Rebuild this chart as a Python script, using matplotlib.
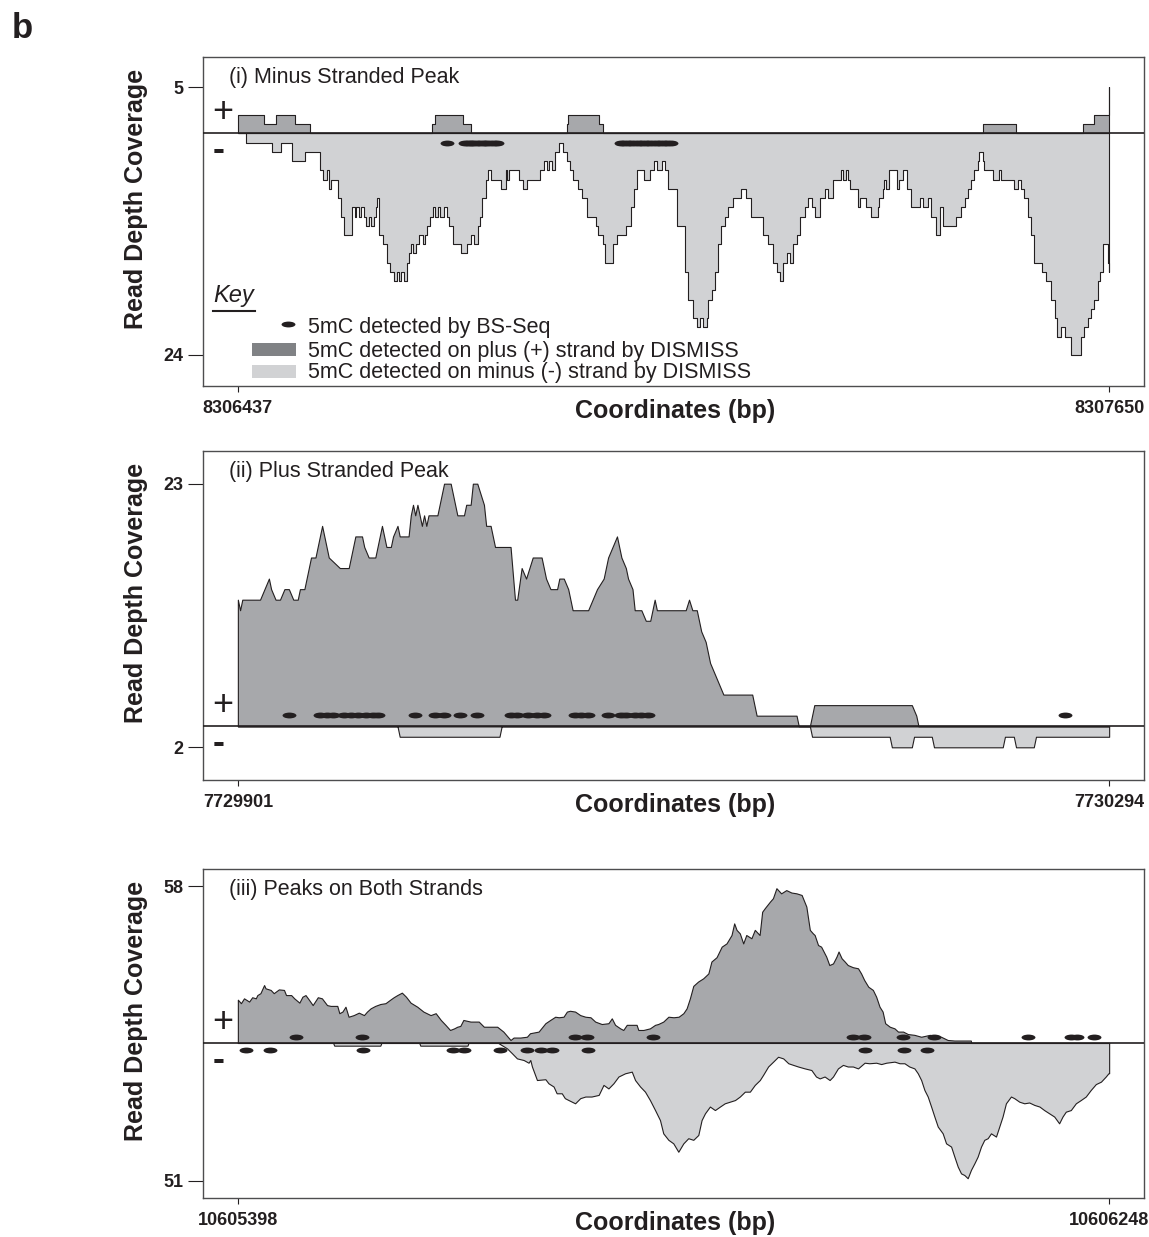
import matplotlib
matplotlib.use("Agg")
import matplotlib.pyplot as plt
from matplotlib.path import Path
from matplotlib.transforms import Affine2D
from matplotlib.patches import Rectangle
from matplotlib.lines import Line2D
import numpy as np

plt.rcParams['font.family'] = ['Liberation Sans', 'DejaVu Sans']

# ---------------- data ----------------
# Panel (i): Minus stranded peak
P1_START, P1_END = 8306437, 8307650
P1_YMAX_PLUS, P1_YMAX_MINUS = 5, 24
P1_PLUS = [(0, 2), (37, 1), (53, 2), (79, 1), (100, 0), (270, 1), (275, 2), (314, 1), (325, 0),
           (458, 1), (460, 2), (503, 1), (508, 0), (1038, 1), (1084, 0), (1176, 1), (1192, 2), (1213, 5)]
P1_MINUS = [(0, 0), (12, 1), (48, 2), (60, 1), (76, 3), (94, 2), (114, 4), (119, 5), (124, 4), (127, 6),
            (130, 5), (139, 7), (144, 9), (148, 11), (159, 8), (163, 9), (165, 8), (169, 9), (172, 8),
            (175, 9), (179, 10), (183, 9), (186, 10), (189, 9), (192, 8), (194, 7), (196, 11), (202, 12),
            (207, 14), (212, 15), (218, 16), (222, 15), (225, 16), (227, 15), (231, 16), (235, 14),
            (238, 13), (241, 12), (244, 13), (248, 12), (252, 11), (258, 12), (261, 11), (264, 10),
            (268, 9), (271, 8), (275, 9), (278, 8), (282, 9), (287, 8), (291, 9), (294, 10), (300, 12),
            (310, 13), (319, 12), (325, 11), (329, 12), (334, 10), (337, 9), (340, 7), (345, 5), (348, 4),
            (352, 5), (366, 6), (373, 4), (375, 5), (378, 4), (392, 5), (397, 6), (402, 5), (421, 4),
            (426, 3), (430, 4), (433, 3), (437, 4), (442, 2), (447, 1), (453, 2), (458, 3), (463, 4),
            (467, 5), (474, 6), (479, 7), (486, 9), (498, 10), (502, 11), (509, 12), (511, 14), (522, 12),
            (528, 11), (541, 10), (548, 8), (551, 6), (555, 4), (565, 5), (574, 4), (579, 3), (583, 4),
            (590, 3), (595, 4), (599, 6), (611, 10), (623, 15), (627, 18), (634, 20), (639, 21), (643, 20),
            (648, 21), (653, 20), (655, 18), (660, 17), (664, 15), (669, 12), (673, 10), (678, 9),
            (683, 8), (690, 7), (701, 6), (708, 7), (715, 9), (731, 11), (738, 12), (745, 14), (750, 15),
            (755, 16), (759, 14), (764, 13), (768, 14), (773, 12), (778, 11), (782, 9), (789, 8), (794, 7),
            (799, 8), (803, 9), (810, 7), (817, 6), (821, 7), (829, 5), (840, 4), (842, 5), (846, 4),
            (849, 5), (852, 6), (863, 8), (866, 7), (875, 8), (882, 9), (891, 8), (893, 7), (898, 6),
            (900, 5), (903, 6), (907, 4), (917, 6), (921, 5), (926, 4), (931, 6), (937, 8), (949, 7),
            (954, 8), (961, 7), (965, 9), (972, 11), (977, 8), (981, 10), (1000, 9), (1007, 8), (1012, 7),
            (1016, 6), (1021, 5), (1025, 4), (1030, 3), (1032, 2), (1037, 3), (1039, 4), (1051, 5),
            (1060, 4), (1062, 5), (1081, 6), (1086, 5), (1090, 6), (1095, 7), (1100, 9), (1104, 11),
            (1109, 14), (1120, 15), (1125, 16), (1132, 18), (1137, 20), (1141, 22), (1146, 21), (1151, 22),
            (1160, 24), (1174, 22), (1178, 21), (1183, 20), (1188, 19), (1192, 18), (1197, 16), (1200, 15),
            (1204, 12), (1211, 14), (1213, 15)]
P1_BS_MINUS = [291, 316, 320, 324, 328, 333, 337, 342, 346, 351, 356, 361,
               533, 538, 543, 548, 553, 558, 563, 568, 573, 578, 583, 588, 593, 598, 603]
P1_BS_PLUS = []

# Panel (ii): Plus stranded peak
P2_START, P2_END = 7729901, 7730294
P2_YMAX_PLUS, P2_YMAX_MINUS = 23, 2
P2_PLUS = [(0, 12), (1, 11), (2, 12), (10, 12), (12, 13), (14, 14), (15, 13), (17, 12), (19, 12), (21, 13),
           (23, 13), (25, 12), (27, 12), (28, 13), (30, 13), (33, 16), (35, 16), (38, 19), (41, 16),
           (46, 15), (50, 15), (52, 17), (53, 18), (56, 18), (57, 17), (59, 16), (62, 16), (65, 19),
           (67, 17), (69, 17), (70, 18), (72, 19), (73, 18), (77, 18), (78, 20), (79, 21), (80, 20),
           (81, 21), (82, 20), (83, 19), (84, 20), (85, 19), (86, 20), (90, 20), (93, 23), (96, 23),
           (99, 20), (102, 20), (103, 21), (105, 21), (106, 23), (108, 23), (111, 21), (112, 19),
           (114, 19), (116, 17), (123, 17), (125, 12), (126, 12), (128, 15), (130, 14), (133, 16),
           (137, 16), (139, 14), (141, 13), (144, 13), (145, 14), (147, 14), (149, 13), (151, 11),
           (158, 11), (160, 12), (162, 13), (165, 14), (167, 16), (169, 17), (171, 18), (173, 16),
           (175, 15), (176, 14), (178, 13), (179, 11), (182, 11), (184, 10), (186, 10), (188, 12),
           (189, 11), (202, 11), (203.5, 12), (205, 11), (207, 11), (209, 9), (211, 8), (213, 6),
           (215, 5), (217, 4), (219, 3), (232, 3), (234, 1), (252, 1), (253, 0), (258, 0), (260, 2),
           (304, 2), (306, 1), (307, 0), (393, 0)]
P2_MINUS = [(0, 0), (72, 0), (73, 1), (118, 1), (119, 0), (258, 0), (259, 1), (294, 1), (295, 2),
            (304, 2), (305, 1), (313, 1), (314, 2), (345, 2), (346, 1), (350, 1), (351, 2), (359, 2),
            (360, 1), (393, 1)]
P2_BS_PLUS = [23, 37, 40, 43, 48, 51, 54, 58, 61, 63, 80, 89, 93, 100, 108, 123, 126, 131, 135, 138,
              152, 155, 158, 167, 173, 175, 179, 182, 185, 373]
P2_BS_MINUS = []

# Panel (iii): Peaks on both strands
P3_START, P3_END = 10605398, 10606248
P3_YMAX_PLUS, P3_YMAX_MINUS = 58, 51
P3_PLUS = [(0, 16), (3, 14.7), (6, 16.5), (11, 15.3), (14, 16.9), (17.5, 16.5), (19, 17.7), (22, 18.4),
           (25.6, 21.4), (27, 20.2), (32, 19.6), (35, 18.4), (40, 19.8), (45, 19.6), (47, 17.7),
           (52, 17.7), (55, 16.5), (60, 14.9), (63, 17.1), (66, 17.7), (69.5, 15.9), (73, 14.0),
           (78, 16.9), (82, 16.5), (87, 14.0), (90.5, 13.7), (97, 13.7), (99, 11.0), (102, 11.6),
           (105, 13.4), (108, 9.7), (113, 10.3), (118, 11.2), (123, 10.3), (126, 11.6), (129.5, 12.8),
           (134, 13.7), (139, 14.4), (144, 14.7), (149, 16.1), (152, 16.9), (155.5, 17.7), (160, 18.6),
           (164, 17.1), (168.5, 14.9), (175, 13.4), (181, 11.6), (188, 10.3), (193, 11.0), (198, 8.5),
           (202.5, 6.7), (207, 4.8), (211, 5.4), (214, 6.0), (217, 6.3), (220, 8.5), (227, 7.9),
           (235, 7.9), (240, 6.0), (246, 6.0), (253, 6.0), (259, 4.2), (266, 1.1), (269, 2.0),
           (275.5, 2.0), (282, 2.3), (285, 3.6), (293.4, 4.2), (300, 7.3), (304.7, 8.5), (309.6, 9.7),
           (313, 9.5), (317.7, 9.7), (321, 11.6), (324, 11.9), (329, 11.6), (334, 10.3), (339, 9.7),
           (344, 9.5), (348.6, 7.9), (355, 7.0), (361.5, 7.3), (364.8, 9.1), (368, 6.7), (373, 5.4),
           (376, 4.8), (379.4, 6.7), (384.3, 6.7), (389, 6.7), (390.7, 4.8), (395.6, 4.8), (402, 5.4),
           (407, 6.7), (410, 7.0), (415, 7.9), (420, 9.7), (425, 9.5), (430, 9.7), (434.6, 11.0),
           (437.8, 12.8), (441, 16.5), (444.3, 21.1), (449, 22.7), (454, 23.9), (459, 25.7), (462, 30.1),
           (467, 31.7), (472, 35.6), (476.7, 36.8), (481.6, 39.9), (484.2, 44.2), (486.5, 41.8),
           (489.7, 40.5), (493, 36.8), (496, 39.9), (501, 38.7), (504.3, 41.8), (509, 39.9),
           (511.5, 48.5), (514, 49.8), (519, 52.2), (522, 53.5), (525.4, 57.2), (530, 55.3),
           (535, 56.5), (540, 55.6), (545, 55.3), (550, 54.7), (554.6, 50.4), (558, 41.8), (561, 40.5),
           (562.7, 39.9), (566, 36.2), (569, 35.6), (574, 31.9), (577, 28.8), (580.6, 29.4), (584, 31.9),
           (586, 33.8), (589, 31.3), (592, 30.1), (595, 28.8), (600, 28.0), (605, 27.6), (608, 25.7),
           (611, 23.3), (615, 20.8), (619.5, 19.6), (622.7, 17.1), (626, 13.4), (629, 11.6),
           (631.5, 7.3), (636, 6.0), (640.6, 5.4), (644, 4.2), (649, 4.2), (653.6, 3.3), (660, 3.0),
           (666.6, 2.3), (675, 3.0), (686, 2.3), (692.5, 1.1), (699, 0.9), (715, 0.9), (715.5, 0),
           (850, 0)]
P3_MINUS = [(0, 0), (93, 0), (94, 1), (139, 1), (140, 0), (177, 0), (178, 1), (224, 1), (225, 0), (254, 0),
            (262.6, 2), (267.4, 3.8), (272.3, 5.7), (278.8, 6.3), (283.6, 7.3), (285.3, 6.3), (286.9, 8.7),
            (291.8, 13.7), (300, 13.4), (303, 14.9), (308, 16.1), (311, 18.6), (316, 18.6), (319, 20.4),
            (322.6, 21.1), (329, 22.3), (334, 20.4), (339, 19.8), (345, 19.8), (352, 19.2), (356.7, 15.5),
            (361.5, 16.8), (366.4, 14.9), (371.3, 12.4), (377.8, 11.2), (384.3, 10.6), (387.5, 13.7),
            (392.4, 16.1), (397.2, 18.0), (402, 21.1), (407, 24.8), (411.8, 28.5), (415, 33.4),
            (420, 35.8), (424.8, 37.1), (429.7, 40.2), (434.6, 37.1), (439.4, 35.2), (444.3, 35.8),
            (449.2, 34.0), (452.4, 28.5), (455.7, 26.0), (460.5, 23.5), (465.4, 24.8), (470.3, 23.5),
            (475, 22.3), (480, 21.7), (485, 21.1), (489.7, 19.8), (494.6, 18.0), (499.5, 18.0),
            (504.3, 15.5), (509.2, 13.7), (512.4, 11.8), (517.3, 8.7), (522.2, 6.9), (527, 5.1),
            (532, 5.7), (537, 7.5), (541.7, 8.1), (546.5, 8.7), (553, 9.4), (559.5, 10.0), (564, 12.4),
            (567.6, 13.1), (572.4, 12.4), (577.3, 13.7), (580.6, 12.4), (585.4, 9.4), (590.3, 8.1),
            (595, 8.7), (600, 8.7), (605, 9.4), (611.4, 7.3), (616, 7.5), (622.7, 7.3), (627.6, 7.8),
            (632.5, 7.3), (640.6, 6.9), (645.5, 7.5), (650.3, 7.5), (655, 8.7), (660, 9.4), (663.3, 11.2),
            (666.6, 13.7), (669.8, 17.4), (673, 19.8), (676.3, 23.5), (679.5, 27.2), (682.8, 30.9),
            (687.6, 33.4), (690.9, 37.1), (695.8, 38.3), (699, 42.0), (702.3, 45.7), (705.5, 48.2),
            (708.7, 48.8), (712, 50.0), (715.2, 46.9), (718.5, 44.5), (721.7, 42.0), (725, 38.3),
            (728.2, 35.8), (731.5, 35.2), (734.7, 33.4), (739.6, 34.6), (742.8, 30.9), (746, 27.2),
            (749.3, 22.3), (754.2, 19.8), (757.4, 20.4), (762.3, 21.7), (767.2, 22.3), (772, 22.0),
            (777, 22.9), (782, 23.5), (786.6, 24.8), (791.5, 26.0), (796.4, 27.2), (801.2, 29.7),
            (804.5, 27.2), (807.7, 25.4), (812.6, 24.8), (817.5, 22.3), (822.3, 21.1), (827.2, 19.8),
            (832, 17.4), (837, 15.2), (842, 14.3), (846.7, 12.4), (849.3, 11.2), (850, 11.2)]
P3_BS_PLUS = [57, 121, 329, 341, 405, 600, 611, 649, 679, 771, 813, 819, 835]
P3_BS_MINUS = [8, 31, 122, 210, 221, 256, 282, 296, 306, 342, 612, 650, 672]

TITLES = ["(i) Minus Stranded Peak", "(ii) Plus Stranded Peak", "(iii) Peaks on Both Strands"]
KEY_LABELS = ["5mC detected by BS-Seq", "5mC detected on plus (+) strand by DISMISS",
              "5mC detected on minus (-) strand by DISMISS"]

# ---------------- styling ----------------
W, H = 1149, 1237
PLUS_COL = '#a7a8ab'
MINUS_COL = '#d1d2d4'
KEY_PLUS_COL = '#808285'
INK = '#231f20'

fig = plt.figure(figsize=(W / 100, H / 100), dpi=100)

ell = Path.unit_circle().transformed(Affine2D().scale(1, 0.42))

panels = [
    dict(start=P1_START, end=P1_END, ymp=P1_YMAX_PLUS, ymm=P1_YMAX_MINUS, plus=P1_PLUS, minus=P1_MINUS,
         bsp=P1_BS_PLUS, bsm=P1_BS_MINUS, step='post', top=57, bottom=386, ylim=(-27.36, 8.28),
         dot_up=0, dot_dn=-1.0),
    dict(start=P2_START, end=P2_END, ymp=P2_YMAX_PLUS, ymm=P2_YMAX_MINUS, plus=P2_PLUS, minus=P2_MINUS,
         bsp=P2_BS_PLUS, bsm=P2_BS_MINUS, step=None, top=451, bottom=780, ylim=(-5.1, 26.1),
         dot_up=1.05, dot_dn=0),
    dict(start=P3_START, end=P3_END, ymp=P3_YMAX_PLUS, ymm=P3_YMAX_MINUS, plus=P3_PLUS, minus=P3_MINUS,
         bsp=P3_BS_PLUS, bsm=P3_BS_MINUS, step=None, top=869, bottom=1198, ylim=(-57.3, 64.3),
         dot_up=2.2, dot_dn=-2.5),
]

for i, p in enumerate(panels):
    top, bottom = p['top'], p['bottom']
    ax = fig.add_axes([203 / W, 1 - bottom / H, 941 / W, (bottom - top) / H])
    span = p['end'] - p['start']
    ax.set_xlim(p['start'] - 0.04 * span, p['end'] + 0.04 * span)
    ax.set_ylim(*p['ylim'])

    px = np.array([p['start'] + a for a, b in p['plus']], dtype=float)
    py = np.array([b for a, b in p['plus']], dtype=float)
    mx = np.array([p['start'] + a for a, b in p['minus']], dtype=float)
    my = -np.array([b for a, b in p['minus']], dtype=float)

    kw = dict(step=p['step']) if p['step'] else {}
    ax.fill_between(mx, 0, my, facecolor=MINUS_COL, edgecolor=INK, linewidth=0.8, zorder=2, **kw)
    ax.fill_between(px, 0, py, facecolor=PLUS_COL, edgecolor=INK, linewidth=0.8, zorder=2, **kw)
    ax.axhline(0, color=INK, linewidth=1.2, zorder=3)

    if p['bsp']:
        ax.plot(np.array(p['bsp']) + p['start'], np.full(len(p['bsp']), p['dot_up']), linestyle='none',
                marker=ell, ms=10, color=INK, mec='none', zorder=4)
    if p['bsm']:
        ax.plot(np.array(p['bsm']) + p['start'], np.full(len(p['bsm']), p['dot_dn']), linestyle='none',
                marker=ell, ms=10, color=INK, mec='none', zorder=4)

    ax.set_xticks([p['start'], p['end']])
    ax.set_xticklabels([str(p['start']), str(p['end'])], fontweight='bold', fontsize=13)
    ax.set_yticks([p['ymp'], -p['ymm']])
    ax.set_yticklabels([str(p['ymp']), str(p['ymm'])], fontweight='bold', fontsize=13)
    ax.tick_params(axis='x', length=4.3, width=0.8, pad=6, colors=INK)
    ax.tick_params(axis='y', length=11, width=0.8, pad=3, colors=INK)
    for s in ax.spines.values():
        s.set_color('#4d4d4f')
        s.set_linewidth(1.0)

    ax.text(26 / 941, 1 - 20 / 329, TITLES[i], transform=ax.transAxes, ha='left', va='center',
            fontsize=15.5, color=INK)
    ax.annotate('+', xy=(0, 0), xycoords=('axes fraction', 'data'), xytext=(14, 15),
                textcoords='offset points', ha='center', va='center', fontsize=26, color=INK)
    ax.annotate('-', xy=(0, 0), xycoords=('axes fraction', 'data'), xytext=(11, -12.5),
                textcoords='offset points', ha='center', va='center', fontsize=26,
                fontweight='bold', color=INK)

    fig.text(136 / W, 1 - ((top + bottom) / 2 - 23) / H, 'Read Depth Coverage', rotation=90,
             ha='center', va='center', fontsize=18, fontweight='bold', color=INK)
    fig.text(675 / W, 1 - (bottom + 32) / H, 'Coordinates (bp)', ha='center', va='baseline',
             fontsize=18, fontweight='bold', color=INK)

    if i == 0:
        # Key
        ax.text(10.5 / 941, (386 - 301.7) / 329, 'Key', transform=ax.transAxes, ha='left',
                va='baseline', fontsize=17, style='italic', color=INK)
        ax.add_line(Line2D([10 / 941, 51.5 / 941], [(386 - 310.7) / 329] * 2, transform=ax.transAxes,
                           color=INK, linewidth=1.5))
        ax.plot([85 / 941], [(386 - 323.5) / 329], transform=ax.transAxes, linestyle='none', marker=ell,
                ms=10, color=INK, mec='none')
        ax.add_patch(Rectangle((49 / 941, (386 - 356) / 329), 44 / 941, 13 / 329, transform=ax.transAxes,
                               facecolor=KEY_PLUS_COL, edgecolor='none'))
        ax.add_patch(Rectangle((49 / 941, (386 - 378) / 329), 44 / 941, 13 / 329, transform=ax.transAxes,
                               facecolor=MINUS_COL, edgecolor='none'))
        for lbl, yb in zip(KEY_LABELS, [333, 356.7, 378]):
            ax.text(105 / 941, (386 - yb) / 329, lbl, transform=ax.transAxes, ha='left', va='baseline',
                    fontsize=15.5, color=INK)

fig.text(12 / W, 1 - 38 / H, 'b', ha='left', va='baseline', fontsize=25, fontweight='bold', color=INK)

fig.savefig('out.png', dpi=100)
